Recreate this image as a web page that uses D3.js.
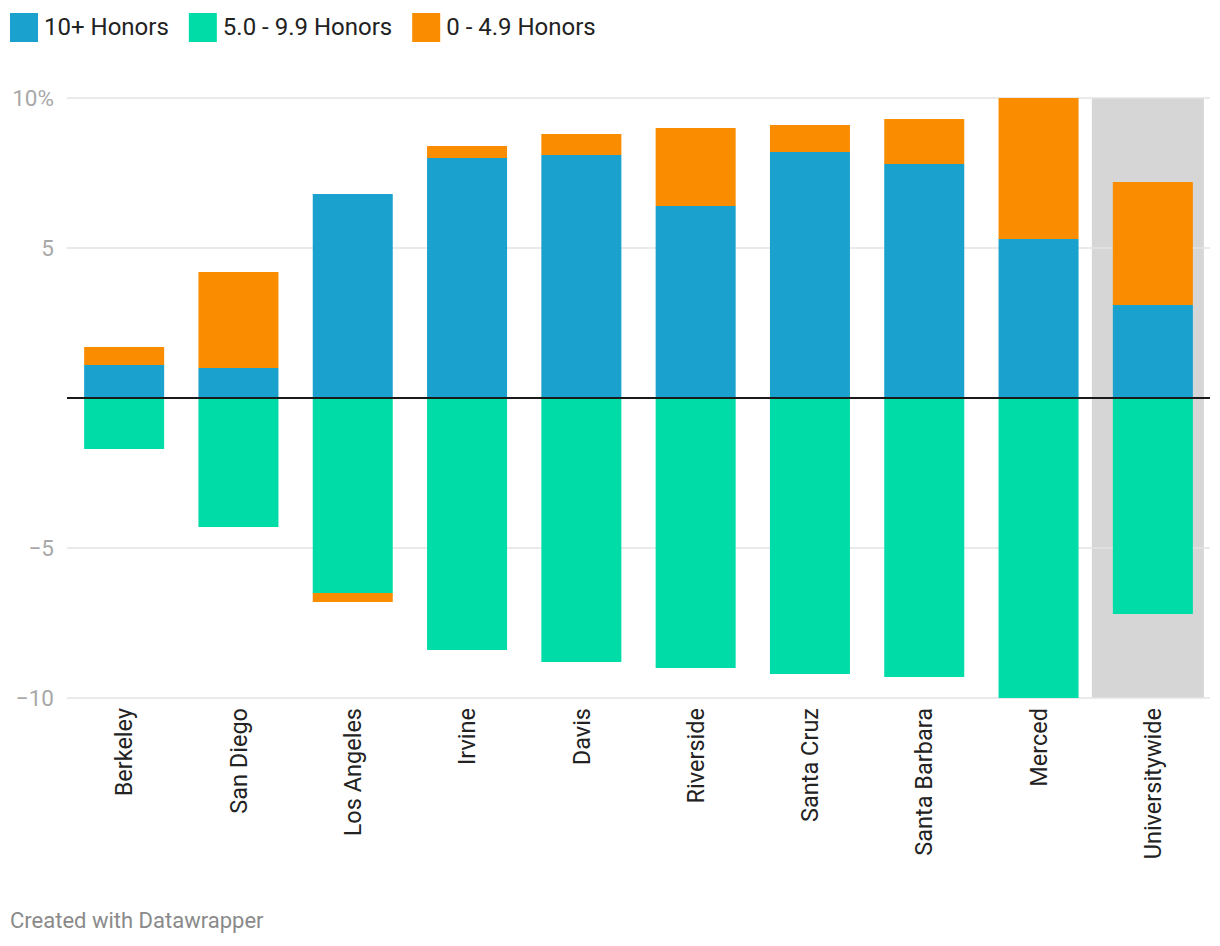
<!DOCTYPE html>
<html>
<head>
<meta charset="utf-8">
<script src="https://cdn.jsdelivr.net/npm/d3@7"></script>
<style>
  body { margin: 0; background: #fff; font-family: Roboto, sans-serif; }
  svg text { font-family: Roboto, sans-serif; }
</style>
</head>
<body>
<svg width="1220" height="946"></svg>
<script>
var campuses = ["Berkeley", "San Diego", "Los Angeles", "Irvine", "Davis", "Riverside",
                "Santa Cruz", "Santa Barbara", "Merced", "Universitywide"];
var honors10 = [1.1, 1.0, 6.8, 8.0, 8.1, 6.4, 8.2, 7.8, 5.3, 3.1];
var honors5 = [-1.7, -4.3, -6.5, -8.4, -8.8, -9.0, -9.2, -9.3, -10.0, -7.2];
var honors0 = [0.6, 3.2, -0.3, 0.4, 0.7, 2.6, 0.9, 1.5, 4.7, 4.1];
var seriesNames = ["10+ Honors", "5.0 - 9.9 Honors", "0 - 4.9 Honors"];
var yTicks = [10, 5, -5, -10];
var highlight = "Universitywide";

var colors = ["#1aa1cd", "#00dca7", "#fa8c00"];

var svg = d3.select("svg"),
    margin = {top: 98, right: 10, bottom: 248, left: 67},
    width = +svg.attr("width") - margin.left - margin.right,
    height = +svg.attr("height") - margin.top - margin.bottom;

var rows = campuses.map(function(c, i) {
  return {campus: c, a: honors10[i], b: honors5[i], c: honors0[i]};
});

var stack = d3.stack().keys(["a", "b", "c"]).offset(d3.stackOffsetDiverging);
var layers = stack(rows);

var x = d3.scaleBand().domain(campuses).range([0, width]).paddingInner(0.3).paddingOuter(0.15),
    y = d3.scaleLinear().domain([-10, 10]).range([height, 0]);

var g = svg.append("g")
    .attr("transform", "translate(" + margin.left + "," + margin.top + ")");

// highlight background
g.append("rect")
    .attr("x", x(highlight) - 21)
    .attr("y", y(10))
    .attr("width", x.bandwidth() + 32)
    .attr("height", y(-10) - y(10))
    .attr("fill", "#d6d6d6");

// gridlines
g.selectAll(".grid")
  .data(yTicks)
  .enter().append("line")
    .attr("x1", 0)
    .attr("x2", width)
    .attr("y1", function(d) { return y(d); })
    .attr("y2", function(d) { return y(d); })
    .attr("stroke", "#e3e3e3")
    .attr("stroke-width", 1.5);

g.selectAll(".ylab")
  .data(yTicks)
  .enter().append("text")
    .attr("x", -13)
    .attr("y", function(d) { return y(d); })
    .attr("dy", "0.35em")
    .attr("text-anchor", "end")
    .attr("fill", "#a8a8a8")
    .style("font-size", "22.5px")
    .text(function(d) { return (d < 0 ? "\u2212" + Math.abs(d) : d) + (d === 10 ? "%" : ""); });

// bars
g.selectAll(".layer")
  .data(layers)
  .enter().append("g")
    .attr("fill", function(d, i) { return colors[i]; })
  .selectAll("rect")
  .data(function(d) { return d; })
  .enter().append("rect")
    .attr("x", function(d) { return x(d.data.campus); })
    .attr("y", function(d) { return y(Math.max(d[0], d[1])); })
    .attr("width", x.bandwidth())
    .attr("height", function(d) { return Math.abs(y(d[0]) - y(d[1])); });

// zero line
g.append("line")
    .attr("x1", 0)
    .attr("x2", width)
    .attr("y1", y(0))
    .attr("y2", y(0))
    .attr("stroke", "#1a1a1a")
    .attr("stroke-width", 2);

// x labels
g.selectAll(".xlab")
  .data(campuses)
  .enter().append("text")
    .attr("transform", function(d) {
      return "translate(" + (x(d) + x.bandwidth() / 2) + "," + (height + 10) + ") rotate(-90)";
    })
    .attr("dy", "0.35em")
    .attr("text-anchor", "end")
    .attr("fill", "#222")
    .style("font-size", "23.5px")
    .text(function(d) { return d; });

// legend
var legend = svg.append("g");
var lx = 10;
seriesNames.forEach(function(name, i) {
  legend.append("rect")
      .attr("x", lx)
      .attr("y", 13)
      .attr("width", 28)
      .attr("height", 29)
      .attr("fill", colors[i]);
  var t = legend.append("text")
      .attr("x", lx + 34)
      .attr("y", 35)
      .attr("fill", "#222")
      .style("font-size", "24px")
      .text(name);
  lx += 34 + t.node().getComputedTextLength() + 20;
});

svg.append("text")
    .attr("x", 10)
    .attr("y", 928)
    .attr("fill", "#8a8a8a")
    .style("font-size", "22px")
    .text("Created with Datawrapper");
</script>
</body>
</html>
